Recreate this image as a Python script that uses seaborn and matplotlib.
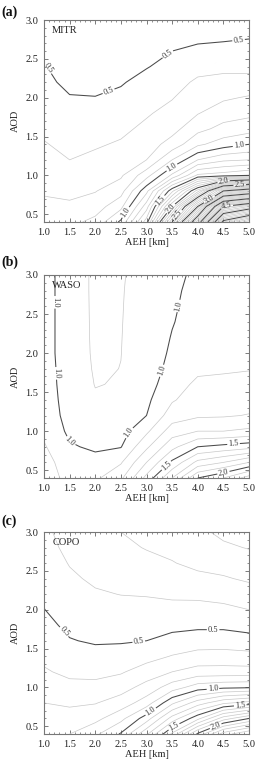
import numpy as np
import matplotlib
matplotlib.use("Agg")
import matplotlib.pyplot as plt
import seaborn as sns
from matplotlib.ticker import MultipleLocator, FormatStrFormatter

# ---- data ----
AEH = [1.0, 1.5, 2.0, 2.5, 3.0, 3.5, 4.0, 4.5, 5.0]
AOD = [0.4, 0.6, 0.8, 1.0, 1.2, 1.4, 1.6, 1.8, 2.0, 2.2, 2.4, 2.6, 2.8, 3.0]

# each inner list: one AEH column, values for AOD ascending
MITR = [
    [0.75, 0.72, 0.69, 0.66, 0.63, 0.605, 0.585, 0.565, 0.54, 0.52, 0.505, 0.48, 0.45, 0.43],
    [0.77, 0.72, 0.67, 0.63, 0.60, 0.58, 0.555, 0.53, 0.505, 0.48, 0.46, 0.445, 0.43, 0.415],
    [0.83, 0.75, 0.695, 0.655, 0.62, 0.59, 0.56, 0.53, 0.503, 0.47, 0.45, 0.44, 0.43, 0.42],
    [1.02, 0.87, 0.76, 0.685, 0.645, 0.61, 0.58, 0.55, 0.52, 0.492, 0.47, 0.455, 0.44, 0.43],
    [1.45, 1.25, 1.07, 0.86, 0.70, 0.65, 0.62, 0.59, 0.56, 0.53, 0.495, 0.465, 0.45, 0.44],
    [2.5, 2.0, 1.57, 1.12, 0.90, 0.74, 0.665, 0.63, 0.595, 0.565, 0.53, 0.50, 0.465, 0.45],
    [3.8, 3.0, 2.15, 1.42, 1.10, 0.88, 0.77, 0.695, 0.655, 0.615, 0.57, 0.525, 0.47, 0.45],
    [5.6, 4.5, 3.0, 1.45, 1.18, 0.95, 0.83, 0.755, 0.685, 0.625, 0.58, 0.53, 0.48, 0.44],
    [6.0, 4.8, 3.2, 1.5, 1.2, 1.0, 0.86, 0.775, 0.71, 0.63, 0.575, 0.535, 0.49, 0.45],
]
WASO = [
    [1.18, 1.15, 1.11, 1.08, 1.06, 1.05, 1.04, 1.035, 1.03, 1.03, 1.03, 1.03, 1.03, 1.03],
    [1.05, 1.03, 1.01, 0.98, 0.965, 0.96, 0.96, 0.96, 0.96, 0.96, 0.96, 0.96, 0.96, 0.96],
    [1.08, 1.03, 0.985, 0.955, 0.93, 0.91, 0.897, 0.89, 0.885, 0.883, 0.882, 0.881, 0.88, 0.88],
    [1.18, 1.09, 0.995, 0.96, 0.935, 0.915, 0.905, 0.901, 0.899, 0.898, 0.897, 0.896, 0.895, 0.893],
    [1.43, 1.30, 1.18, 1.08, 1.00, 0.98, 0.96, 0.95, 0.945, 0.94, 0.937, 0.935, 0.932, 0.93],
    [1.70, 1.52, 1.37, 1.25, 1.15, 1.09, 1.055, 1.03, 1.015, 1.005, 0.995, 0.99, 0.985, 0.975],
    [2.00, 1.73, 1.50, 1.30, 1.185, 1.15, 1.12, 1.08, 1.06, 1.05, 1.04, 1.03, 1.025, 1.02],
    [2.10, 1.80, 1.53, 1.30, 1.19, 1.15, 1.12, 1.09, 1.075, 1.065, 1.055, 1.045, 1.035, 1.03],
    [2.25, 1.90, 1.56, 1.32, 1.205, 1.16, 1.13, 1.095, 1.08, 1.07, 1.06, 1.05, 1.045, 1.04],
]
COPO = [
    [0.765, 0.735, 0.70, 0.655, 0.61, 0.58, 0.55, 0.525, 0.502, 0.485, 0.47, 0.45, 0.435, 0.42],
    [0.80, 0.74, 0.685, 0.625, 0.58, 0.54, 0.505, 0.48, 0.455, 0.435, 0.415, 0.395, 0.375, 0.36],
    [0.88, 0.77, 0.695, 0.625, 0.575, 0.53, 0.49, 0.46, 0.435, 0.41, 0.385, 0.36, 0.345, 0.33],
    [1.01, 0.87, 0.745, 0.66, 0.59, 0.535, 0.492, 0.46, 0.43, 0.398, 0.37, 0.345, 0.32, 0.30],
    [1.28, 1.05, 0.85, 0.735, 0.645, 0.565, 0.50, 0.46, 0.425, 0.395, 0.36, 0.325, 0.295, 0.28],
    [1.62, 1.34, 1.08, 0.85, 0.70, 0.605, 0.535, 0.47, 0.425, 0.385, 0.345, 0.305, 0.275, 0.25],
    [2.02, 1.57, 1.25, 0.95, 0.74, 0.635, 0.55, 0.48, 0.43, 0.38, 0.325, 0.275, 0.245, 0.22],
    [2.35, 1.85, 1.38, 0.98, 0.74, 0.64, 0.55, 0.48, 0.42, 0.37, 0.31, 0.26, 0.215, 0.18],
    [2.50, 2.00, 1.44, 0.99, 0.74, 0.63, 0.54, 0.46, 0.40, 0.345, 0.285, 0.24, 0.195, 0.16],
]

PANEL_LABELS = ["(a)", "(b)", "(c)"]
NAMES = ["MITR", "WASO", "COPO"]
X_TICKS = [1.0, 1.5, 2.0, 2.5, 3.0, 3.5, 4.0, 4.5, 5.0]
Y_TICKS = [0.5, 1.0, 1.5, 2.0, 2.5, 3.0]

# where the contour labels sit (AEH, AOD)
LABEL_SPOTS = [
    [(1.08, 2.38), (2.29, 2.03), (3.5, 2.48), (4.8, 2.72),
     (2.58, 0.53), (3.52, 1.08), (4.8, 1.41),
     (3.27, 0.68), (4.5, 0.96), (3.46, 0.58), (3.65, 0.47), (4.82, 0.86),
     (4.2, 0.72), (4.57, 0.58)],
    [(1.2, 2.65), (1.22, 1.74), (3.65, 2.6), (3.36, 1.76), (1.47, 0.82), (2.75, 0.95),
     (3.43, 0.53), (4.7, 0.82), (4.5, 0.47)],
    [(1.45, 1.75), (2.85, 1.58), (4.3, 1.72), (3.07, 0.7), (4.3, 0.95),
     (3.53, 0.5), (4.83, 0.76), (4.35, 0.5)],
]

# ---- style ----
sns.set_theme(style="ticks")
plt.rcParams["font.family"] = ["Liberation Serif", "DejaVu Serif"]
plt.rcParams["axes.linewidth"] = 0.8

W, H = 257, 761
fig = plt.figure(figsize=(W / 100, H / 100), dpi=100)

# axes boxes in pixels: (left, top, right, bottom)
boxes = [(44, 20, 249, 222), (44, 275, 249, 478), (44, 532, 249, 734)]
label_y = [12, 262, 521]

levels_all = np.round(np.arange(0.1, 7.0, 0.1), 1)
major = [l for l in levels_all if abs(l * 2 - round(l * 2)) < 1e-6]
minor = [l for l in levels_all if abs(l * 2 - round(l * 2)) >= 1e-6]

X, Y = np.meshgrid(AEH, AOD)

for i, data in enumerate([MITR, WASO, COPO]):
    l, t, r, b = boxes[i]
    ax = fig.add_axes([l / W, 1 - b / H, (r - l) / W, (b - t) / H])
    Z = np.array(data).T
    ax.contour(X, Y, Z, levels=minor, colors="#c8c8c8", linewidths=0.5)
    cs = ax.contour(X, Y, Z, levels=major, colors="#4a4a4a", linewidths=0.75)
    ax.set_xlim(1.0, 5.0)
    ax.set_ylim(0.4, 3.0)
    ax.clabel(cs, fmt="%.1f", fontsize=6, inline=True, inline_spacing=1,
              colors="#333333", manual=LABEL_SPOTS[i])

    ax.set_xticks(X_TICKS)
    ax.set_yticks(Y_TICKS)
    ax.xaxis.set_minor_locator(MultipleLocator(0.1))
    ax.yaxis.set_minor_locator(MultipleLocator(0.1))
    ax.xaxis.set_major_formatter(FormatStrFormatter("%.1f"))
    ax.yaxis.set_major_formatter(FormatStrFormatter("%.1f"))
    ax.tick_params(which="both", direction="in", top=True, right=True,
                   color="#666666", labelsize=7.5, labelcolor="#222222")
    ax.tick_params(which="major", length=3, width=0.6, pad=4)
    ax.tick_params(which="minor", length=1.6, width=0.5)
    for s in ax.spines.values():
        s.set_color("#777777")
        s.set_linewidth(0.8)
    ax.set_xlabel("AEH [km]", fontsize=7.5, labelpad=1, color="#222222")
    ax.set_ylabel("AOD", fontsize=7.5, labelpad=4, color="#222222")
    ax.text(0.04, 0.95, NAMES[i], transform=ax.transAxes, fontsize=7.5,
            ha="left", va="center", color="#222222")
    fig.text(1 / W, 1 - label_y[i] / H, PANEL_LABELS[i], fontsize=10,
             fontweight="bold", ha="left", va="center", color="#111111")

fig.savefig("out.png", dpi=100, facecolor="white")
